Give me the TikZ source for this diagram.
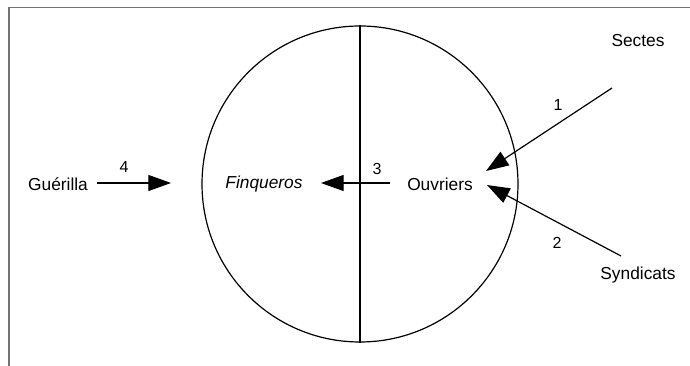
\documentclass[tikz,border=0pt]{standalone}
\usepackage{fontspec}
\setmainfont{Liberation Sans}
\usetikzlibrary{arrows.meta}
\begin{document}
\begin{tikzpicture}[x=0.75pt,y=-0.75pt,
  lbl/.style={font=\fontsize{13}{15}\selectfont, inner sep=0pt, anchor=center},
  num/.style={font=\fontsize{12}{14}\selectfont, inner sep=0pt},
  arr/.style={line width=0.9pt, -{Triangle[length=17pt,width=12pt]}},
  frame/.style={line width=1.1pt, draw=black!55}]
\useasboundingbox (0,0) rectangle (690,366);
% frame
\coordinate (fl) at (9,366);
\coordinate (fc) at (9,7.5);
\coordinate (fr) at (690,7.5);
\draw[frame] (fl) -- (fc) -- (fr);
% circle
\node[circle, draw, line width=0.9pt, minimum size=316*0.75pt, inner sep=0pt] (C) at (360,184) {};
\draw[line width=0.9pt] (C.north) -- (C.south);
% labels
\node[lbl] (gue) at (58,184) {Guérilla};
\node[lbl] (fin) at (264,184) {\itshape Finqueros};
\node[lbl] (ouv) at (440,184) {Ouvriers};
\node[lbl] (sec) at (638,41) {Sectes};
\node[lbl] (syn) at (638,275) {Syndicats};
% connector ends
\coordinate (a4s) at (97,183);
\coordinate (a4e) at (171,183);
\coordinate (a3s) at (390,183);
\coordinate (a3e) at (321,183);
\coordinate (a1s) at (612,88);
\coordinate (a1e) at (486,171);
\coordinate (a2s) at (621,256);
\coordinate (a2e) at (487,185);
\draw[arr] (a4s) -- (a4e);
\draw[arr] (a3s) -- (a3e);
\draw[arr] (a1s) -- (a1e);
\draw[arr] (a2s) -- (a2e);
% numbers
\node[num] (n4) at (124,167) {4};
\node[num] (n3) at (377,169) {3};
\node[num] (n1) at (558,105) {1};
\node[num] (n2) at (557,243) {2};
\end{tikzpicture}
\end{document}
